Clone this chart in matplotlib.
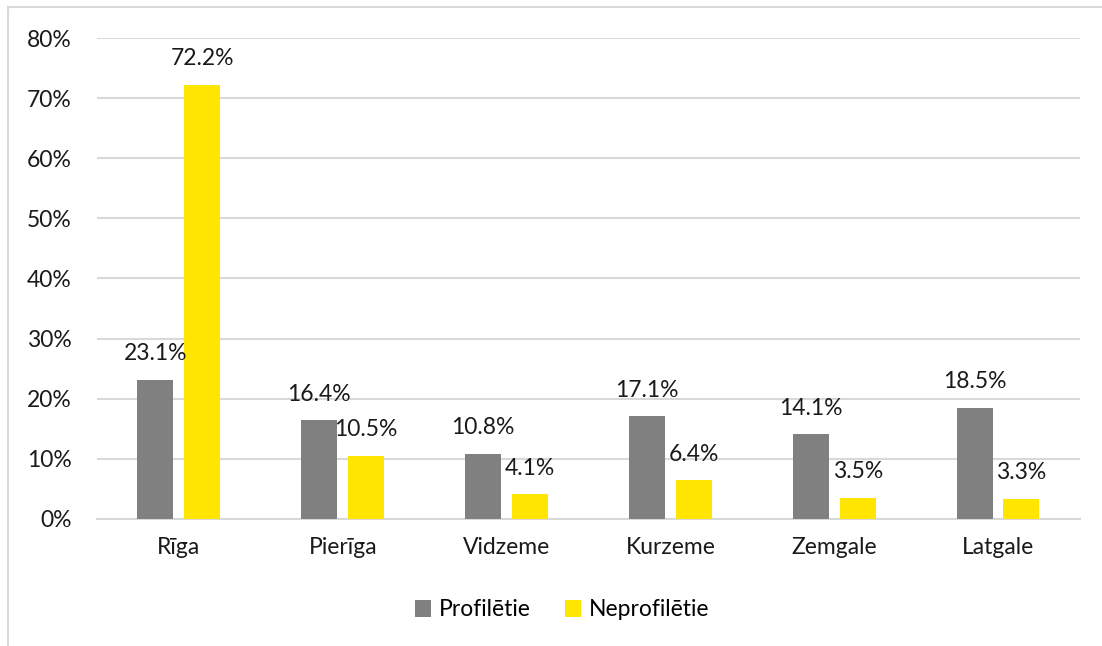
import numpy as np
import matplotlib.pyplot as plt
from matplotlib.patches import Rectangle
from matplotlib.ticker import PercentFormatter

regions = ["Rīga", "Pierīga", "Vidzeme", "Kurzeme", "Zemgale", "Latgale"]
profiletie = [23.1, 16.4, 10.8, 17.1, 14.1, 18.5]
neprofiletie = [72.2, 10.5, 4.1, 6.4, 3.5, 3.3]

plt.rcParams["font.family"] = ["Lato", "DejaVu Sans"]
fs = 16.5
txt = "#1a1a1a"

fig = plt.figure(figsize=(11.02, 6.46), dpi=100)
ax = fig.add_axes([0.088, 0.197, 0.892, 0.744])

index = np.arange(len(regions))
width = 0.22
off = 0.143

ax.bar(index - off, profiletie, width, color="#808080", label="Profilētie", zorder=3)
ax.bar(index + off, neprofiletie, width, color="#FFE500", label="Neprofilētie", zorder=3)

# labels sit ~26 px above the bar tops
for i in index:
    ax.annotate(f"{profiletie[i]:.1f}%", (i - off, profiletie[i]),
                xytext=(0, 26 * 0.72), textcoords="offset points",
                ha="center", va="center", fontsize=fs, color=txt)
    ax.annotate(f"{neprofiletie[i]:.1f}%", (i + off, neprofiletie[i]),
                xytext=(0, 26 * 0.72), textcoords="offset points",
                ha="center", va="center", fontsize=fs, color=txt)

ax.set_xlim(-0.5, len(regions) - 0.5)
ax.set_ylim(0, 80)
ax.set_yticks(np.arange(0, 81, 10))
ax.yaxis.set_major_formatter(PercentFormatter(decimals=0))
ax.set_xticks(index)
ax.set_xticklabels(regions)
ax.tick_params(axis="both", length=0, labelsize=fs, labelcolor=txt)
ax.tick_params(axis="x", pad=13)
ax.tick_params(axis="y", pad=18)

ax.grid(axis="y", color="#D9D9D9", linewidth=1.5, zorder=0)
for s in ["top", "right", "left"]:
    ax.spines[s].set_visible(False)
ax.spines["bottom"].set_color("#D9D9D9")
ax.spines["bottom"].set_linewidth(1.5)

ax.legend(loc="center", bbox_to_anchor=(0.51, (646 - 610) / 646), bbox_transform=fig.transFigure,
          ncol=2, frameon=False, fontsize=fs, handlelength=0.7, handleheight=0.7,
          handletextpad=0.35, columnspacing=1.5)

fig.patches.append(Rectangle((8 / 1102, -0.1), 1.2, 1.1 - 7 / 646, transform=fig.transFigure,
                             fill=False, edgecolor="#D9D9D9", linewidth=1.5))

fig.savefig("out.png", dpi=100)
